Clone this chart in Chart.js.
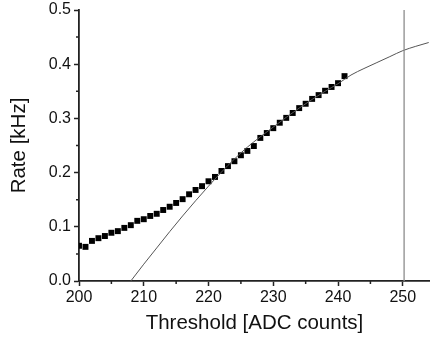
<!DOCTYPE html>
<html>
<head>
<meta charset="utf-8">
<script src="https://cdn.jsdelivr.net/npm/chart.js@4/dist/chart.umd.min.js"></script>
<style>
  html, body { margin: 0; padding: 0; background: #fff; }
  #wrap { width: 430px; height: 340px; }
</style>
</head>
<body>
<div id="wrap"><canvas id="rateChart" width="430" height="340"></canvas></div>
<script>
var thresholds = [200, 201, 202, 203, 204, 205, 206, 207, 208, 209,
  210, 211, 212, 213, 214, 215, 216, 217, 218, 219,
  220, 221, 222, 223, 224, 225, 226, 227, 228, 229,
  230, 231, 232, 233, 234, 235, 236, 237, 238, 239, 240, 241];
var rates = [0.065, 0.063, 0.074, 0.079, 0.083, 0.089, 0.092, 0.098, 0.103, 0.111,
  0.114, 0.120, 0.124, 0.131, 0.137, 0.144, 0.151, 0.160, 0.168, 0.175,
  0.184, 0.192, 0.203, 0.212, 0.221, 0.232, 0.240, 0.249, 0.264, 0.273,
  0.282, 0.292, 0.301, 0.310, 0.319, 0.327, 0.336, 0.343, 0.351, 0.358, 0.365, 0.378];

// fit curve, read at a few spots
var fitX = [208, 210, 212, 214, 216, 218, 220, 222, 224, 226, 228, 230,
  232, 234, 236, 238, 240, 242, 244, 246, 248, 250, 252, 254];
var fitY = [0, 0.031, 0.061, 0.091, 0.120, 0.148, 0.175, 0.201, 0.225, 0.247, 0.266, 0.284,
  0.302, 0.319, 0.335, 0.350, 0.364, 0.380, 0.392, 0.403, 0.414, 0.425, 0.433, 0.440];

// vertical marker
var markerX = 250.2;
var markerY = [0, 0.5];

var xTicks = [200, 210, 220, 230, 240, 250];
var xMinor = [205, 215, 225, 235, 245];
var yTicks = [0, 0.1, 0.2, 0.3, 0.4, 0.5];
var yMinor = [0.05, 0.15, 0.25, 0.35, 0.45];

function pts(xs, ys) {
  return xs.map(function (x, i) { return { x: x, y: ys[i] }; });
}

// short minor ticks on both axes
var minorTicks = {
  id: "minorTicks",
  afterDraw: function (chart) {
    var ctx = chart.ctx;
    var xs = chart.scales.x, ys = chart.scales.y;
    ctx.save();
    ctx.strokeStyle = "#222";
    ctx.lineWidth = 1.5;
    ctx.beginPath();
    xMinor.forEach(function (v) {
      var px = xs.getPixelForValue(v);
      ctx.moveTo(px, xs.top);
      ctx.lineTo(px, xs.top + 3);
    });
    yMinor.forEach(function (v) {
      var py = ys.getPixelForValue(v);
      ctx.moveTo(ys.right, py);
      ctx.lineTo(ys.right - 3, py);
    });
    ctx.stroke();
    ctx.restore();
  }
};

var font = "Liberation Sans, Arial";

var ctx = document.getElementById("rateChart").getContext("2d");
var rateChart = new Chart(ctx, {
  type: "scatter",
  data: {
    datasets: [
      {
        label: "marker",
        data: pts([markerX, markerX], markerY),
        showLine: true,
        borderColor: "#8c8c8c",
        borderWidth: 1.3,
        pointRadius: 0,
      },
      {
        label: "fit",
        data: pts(fitX, fitY),
        showLine: true,
        borderColor: "#555",
        borderWidth: 1,
        cubicInterpolationMode: "monotone",
        pointRadius: 0,
      },
      {
        label: "rate",
        data: pts(thresholds, rates),
        pointStyle: "rect",
        pointRadius: 4.2,
        backgroundColor: "#000",
        borderColor: "#000",
        borderWidth: 0,
      },
    ],
  },
  options: {
    responsive: false,
    animation: false,
    events: [],
    layout: { autoPadding: false, padding: { top: 10, right: 0, left: 0, bottom: 0 } },
    plugins: { legend: { display: false }, tooltip: { enabled: false } },
    scales: {
      x: {
        type: "linear",
        min: 200,
        max: 254.2,
        afterBuildTicks: function (s) {
          s.ticks = xTicks.map(function (v) { return { value: v }; });
        },
        afterFit: function (s) {
          s.height = 59;
          s.paddingLeft = 0;
          s.paddingRight = 0;
        },
        grid: { drawOnChartArea: false, tickLength: 5, tickColor: "#222", tickWidth: 1.5 },
        border: { color: "#222", width: 1.8 },
        ticks: {
          color: "#111",
          padding: 2,
          font: { family: font, size: 16 },
        },
        title: {
          display: true,
          text: "Threshold [ADC counts]",
          color: "#111",
          padding: { top: 0 },
          font: { family: font, size: 20.5 },
        },
      },
      y: {
        min: 0,
        max: 0.5,
        afterBuildTicks: function (s) {
          s.ticks = yTicks.map(function (v) { return { value: v }; });
        },
        afterFit: function (s) {
          s.width = 79;
          s.paddingTop = 0;
          s.paddingBottom = 0;
        },
        grid: { drawOnChartArea: false, tickLength: 5, tickColor: "#222", tickWidth: 1.5 },
        border: { color: "#222", width: 1.8 },
        ticks: {
          color: "#111",
          padding: 3,
          font: { family: font, size: 16 },
          callback: function (v) { return Number(v).toFixed(1); },
        },
        title: {
          display: true,
          text: "Rate [kHz]",
          color: "#111",
          padding: { top: 7, bottom: 0 },
          font: { family: font, size: 20.5 },
        },
      },
    },
  },
  plugins: [minorTicks],
});
</script>
</body>
</html>
